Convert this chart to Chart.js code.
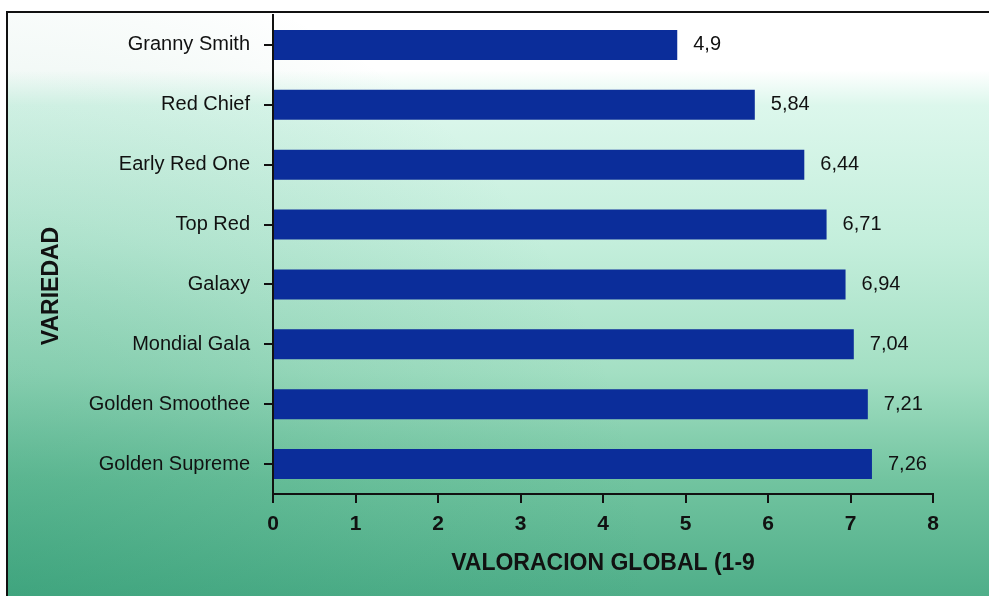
<!DOCTYPE html>
<html>
<head>
<meta charset="utf-8">
<script src="https://cdn.jsdelivr.net/npm/chart.js@4.4.1/dist/chart.umd.min.js"></script>
<style>
    html, body { margin: 0; padding: 0; background: #fff; }
    #wrap { width: 989px; height: 596px; position: relative; }
</style>
</head>
<body>
<div id="wrap"><canvas id="appleChart"></canvas></div>
<script>
// Valoracion global por variedad
const varieties = ['Granny Smith', 'Red Chief', 'Early Red One', 'Top Red', 'Galaxy', 'Mondial Gala', 'Golden Smoothee', 'Golden Supreme'];
const scores = [4.9, 5.84, 6.44, 6.71, 6.94, 7.04, 7.21, 7.26];
const scoreLabels = ['4,9', '5,84', '6,44', '6,71', '6,94', '7,04', '7,21', '7,26'];
const xTicks = [0, 1, 2, 3, 4, 5, 6, 7, 8];

const FONT = "'Liberation Sans', Arial, sans-serif";

// background gradient + frame of the scanned figure
const backgroundPlugin = {
    id: 'scanBackground',
    beforeDraw(chart) {
        const ctx = chart.ctx;
        const w = chart.width, h = chart.height;
        ctx.save();
        ctx.fillStyle = '#ffffff';
        ctx.fillRect(0, 0, w, h);

        let g = ctx.createLinearGradient(0, 12, 0, h);
        g.addColorStop(0, '#ffffff');
        g.addColorStop(0.10, '#ffffff');
        g.addColorStop(0.16, '#dcf7ec');
        g.addColorStop(0.40, '#c3eedb');
        g.addColorStop(0.62, '#a3dfc3');
        g.addColorStop(0.80, '#72c4a0');
        g.addColorStop(1, '#4fae89');
        ctx.fillStyle = g;
        ctx.fillRect(7, 12, w - 7, h - 12);

        // darker towards the bottom-left corner
        let d = ctx.createRadialGradient(0, h, 0, 0, h, 650);
        d.addColorStop(0, 'rgba(40,150,110,0.4)');
        d.addColorStop(0.6, 'rgba(40,150,110,0.12)');
        d.addColorStop(1, 'rgba(40,150,110,0)');
        ctx.fillStyle = d;
        ctx.fillRect(7, 12, w - 7, h - 12);

        ctx.strokeStyle = '#111';
        ctx.lineWidth = 2;
        ctx.beginPath();
        ctx.moveTo(6, 12);
        ctx.lineTo(w, 12);
        ctx.moveTo(7, 12);
        ctx.lineTo(7, h);
        ctx.stroke();
        ctx.restore();
    }
};

// value labels and axis titles
const labelPlugin = {
    id: 'valueLabels',
    afterDatasetsDraw(chart) {
        const ctx = chart.ctx;
        const meta = chart.getDatasetMeta(0);
        ctx.save();
        ctx.fillStyle = '#111';
        ctx.font = '20px ' + FONT;
        ctx.textAlign = 'left';
        ctx.textBaseline = 'middle';
        meta.data.forEach((bar, i) => {
            ctx.fillText(scoreLabels[i], bar.x + 16, bar.y);
        });

        ctx.font = 'bold 23px ' + FONT;
        ctx.textAlign = 'center';
        ctx.fillText('VALORACION GLOBAL (1-9', 603, 564);

        ctx.translate(52, 286);
        ctx.rotate(-Math.PI / 2);
        ctx.fillText('VARIEDAD', 0, 0);
        ctx.restore();
    }
};

const ctx = document.getElementById('appleChart');
new Chart(ctx, {
    type: 'bar',
    data: {
        labels: varieties,
        datasets: [{
            label: 'Valoracion global',
            data: scores,
            backgroundColor: '#0b2d9a',
            borderWidth: 0,
            categoryPercentage: 1,
            barPercentage: 0.5
        }]
    },
    options: {
        indexAxis: 'y',
        responsive: true,
        maintainAspectRatio: false,
        animation: false,
        devicePixelRatio: 1,
        layout: {padding: {left: 0, right: 56, top: 15, bottom: 0}},
        plugins: {
            legend: {display: false},
            tooltip: {enabled: false}
        },
        scales: {
            x: {
                min: 0,
                max: 8,
                afterBuildTicks: axis => {
                    axis.ticks = xTicks.map(v => ({value: v}));
                },
                afterFit: axis => {
                    axis.height = 102;
                    axis.paddingLeft = 0;
                    axis.paddingRight = 0;
                },
                grid: {
                    drawOnChartArea: false,
                    drawTicks: true,
                    tickLength: 9,
                    color: '#111',
                    lineWidth: 2
                },
                border: {color: '#111', width: 2},
                ticks: {
                    color: '#111',
                    font: {family: FONT, size: 21, weight: 'bold'},
                    padding: 9
                }
            },
            y: {
                afterFit: axis => {
                    axis.width = 273;
                    axis.paddingTop = 0;
                    axis.paddingBottom = 0;
                },
                grid: {
                    offset: false,
                    drawOnChartArea: false,
                    drawTicks: true,
                    tickLength: 9,
                    color: '#111',
                    lineWidth: 2
                },
                border: {color: '#111', width: 2},
                ticks: {
                    color: '#111',
                    font: {family: FONT, size: 20},
                    padding: 14
                }
            }
        }
    },
    plugins: [backgroundPlugin, labelPlugin]
});
</script>
</body>
</html>
